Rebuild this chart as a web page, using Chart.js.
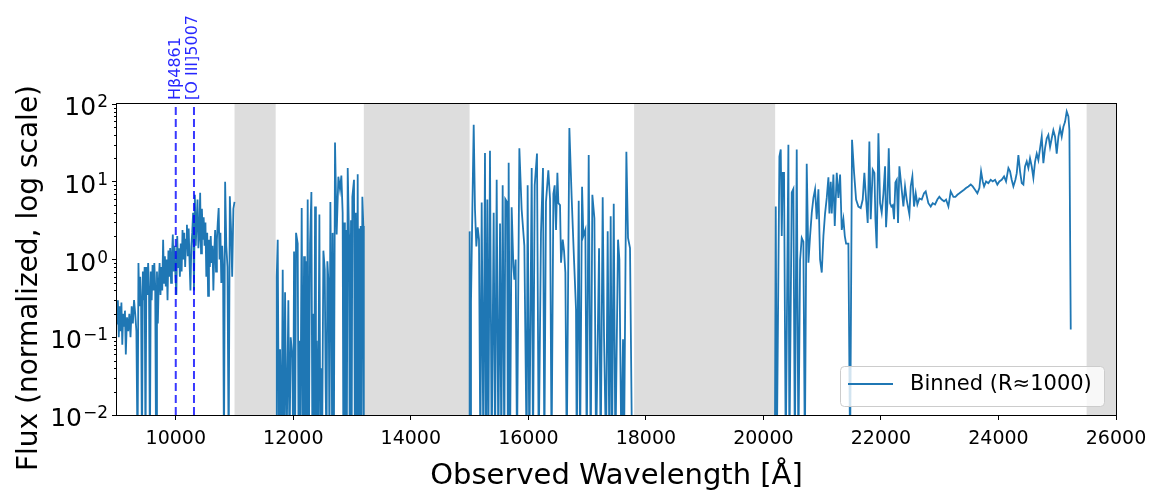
<!DOCTYPE html>
<html>
<head>
<meta charset="utf-8">
<script src="https://cdn.jsdelivr.net/npm/chart.js@4.4.1/dist/chart.umd.min.js"></script>
<style>
  html, body { margin: 0; padding: 0; background: #fff; }
  #wrap { width: 1162px; height: 494px; }
</style>
</head>
<body>
<div id="wrap"><canvas id="myChart" width="1162" height="494"></canvas></div>
<script>
const grafico = document.querySelector("#myChart")
const fonte = "'DejaVu Sans', sans-serif"

// eixos
const xTickValues = [10000, 12000, 14000, 16000, 18000, 20000, 22000, 24000, 26000]
const yTickValues = [0.01, 0.1, 1, 10, 100]
const yTickExponents = ["−2", "−1", "0", "1", "2"]

// faixas sem dados (telluricas)
const bandStarts = [11000, 13200, 17800, 25500]
const bandEnds = [11700, 15000, 20200, 26000]

// linhas marcadas
const markerWaves = [10000, 10310]
const markerLabels = ["Hβ4861", "[O III]5007"]

// espectro binado: [comprimento de onda, fluxo]; valores < 0.01 caem abaixo do eixo
const segA = [
  [9000, 0.15], [9015, 0.3], [9030, 0.1], [9045, 0.25], [9060, 0.12], [9075, 0.28], [9090, 0.08], [9105, 0.2],
  [9120, 0.14], [9135, 0.22], [9150, 0.06], [9170, 0.18], [9190, 0.12], [9210, 0.2], [9230, 0.1], [9250, 0.25],
  [9270, 0.15], [9290, 0.3], [9310, 0.2], [9330, 0.12], [9350, 0.003], [9365, 0.9], [9380, 0.25], [9395, 0.6],
  [9410, 0.3], [9425, 0.003], [9440, 0.7], [9455, 0.3], [9470, 0.8], [9485, 0.003], [9500, 0.8], [9515, 0.35],
  [9530, 0.9], [9545, 0.4], [9560, 0.003], [9575, 0.7], [9590, 0.3], [9605, 0.85], [9620, 0.4], [9635, 0.9],
  [9650, 0.45], [9665, 0.003], [9680, 0.7], [9695, 0.15], [9710, 0.5], [9725, 0.9], [9740, 0.35], [9755, 0.8],
  [9770, 0.4], [9785, 1.8], [9800, 0.5], [9815, 1.1], [9830, 0.45], [9845, 1.0], [9860, 0.3], [9875, 1.3],
  [9890, 0.6], [9905, 1.4], [9920, 0.5], [9935, 1.1], [9950, 2.1], [9965, 0.7], [9980, 1.5], [9995, 0.6],
  [10010, 0.35], [10025, 2.0], [10040, 0.8], [10055, 1.4], [10070, 0.6], [10085, 1.6], [10100, 0.7], [10115, 2.4],
  [10130, 1.0], [10145, 2.2], [10160, 0.8], [10175, 1.8], [10190, 2.8], [10205, 1.1], [10220, 2.5], [10235, 0.9],
  [10250, 0.4], [10265, 1.5], [10280, 2.2], [10295, 4.0], [10310, 0.4], [10325, 6.8], [10340, 1.5], [10355, 3.0],
  [10370, 5.9], [10385, 1.4], [10400, 2.0], [10415, 7.2], [10430, 1.2], [10445, 4.5], [10460, 1.8], [10475, 3.5],
  [10490, 1.5], [10505, 3.0], [10520, 0.6], [10535, 2.2], [10550, 0.34], [10565, 1.8], [10580, 0.8], [10595, 2.0],
  [10610, 0.9], [10625, 1.5], [10640, 0.4], [10655, 1.2], [10670, 2.4], [10685, 0.7], [10700, 1.8], [10715, 3.0],
  [10730, 4.6], [10745, 1.0], [10760, 2.2], [10775, 0.5], [10790, 1.5], [10805, 0.8], [10820, 0.003], [10840, 10],
  [10860, 1.5], [10880, 0.8], [10900, 0.003], [10920, 6.5], [10940, 2.5], [10960, 0.6], [10980, 4.5], [11000, 5.5]
]

const segB = [
  [11710, 0.003], [11718, 0.6], [11735, 1.8], [11755, 0.003], [11775, 0.07], [11800, 0.003], [11820, 0.74], [11840, 0.003],
  [11860, 0.38], [11885, 0.003], [11916, 0.3], [11935, 0.003], [11956, 0.1], [11984, 0.055], [11998, 0.003], [12013, 1.27],
  [12030, 0.003], [12047, 2.2], [12075, 1.6], [12090, 0.003], [12104, 0.09], [12120, 0.003], [12143, 4.6], [12163, 0.003],
  [12183, 1.1], [12198, 0.003], [12211, 0.95], [12228, 0.003], [12245, 5.9], [12265, 0.003], [12285, 1.6], [12308, 7.4],
  [12325, 0.003], [12342, 0.2], [12355, 0.003], [12370, 4.8], [12385, 0.003], [12398, 0.09], [12420, 0.003], [12444, 3.8],
  [12460, 0.003], [12472, 0.04], [12490, 0.003], [12512, 1.3], [12535, 0.75], [12551, 0.023], [12565, 0.003], [12580, 0.95],
  [12602, 0.46], [12615, 0.003], [12631, 5.5], [12653, 0.09], [12662, 0.003], [12670, 2.2], [12690, 0.003], [12710, 32],
  [12738, 2.1], [12767, 11.6], [12795, 8], [12818, 12], [12840, 4], [12852, 0.003], [12863, 3], [12878, 0.003],
  [12892, 2.4], [12910, 0.003], [12926, 15], [12948, 2.1], [12960, 0.003], [12982, 3.2], [12993, 0.003], [13005, 6.4],
  [13033, 10.6], [13048, 0.003], [13062, 4], [13080, 0.003], [13096, 12.5], [13110, 0.003], [13124, 2.5], [13135, 0.003],
  [13147, 2.7], [13160, 0.003], [13175, 6.4], [13192, 2.7], [13200, 0.003]
]

const segC = [
  [14995, 0.003], [15001, 2.3], [15012, 0.003], [15024, 0.28], [15047, 4.4], [15070, 54], [15092, 4.4], [15115, 1.47],
  [15138, 2.6], [15160, 1.8], [15183, 0.003], [15206, 5.4], [15234, 0.003], [15262, 23.5], [15279, 0.003], [15302, 5.9],
  [15319, 0.003], [15347, 25], [15376, 0.003], [15410, 4], [15433, 0.003], [15461, 10.6], [15489, 0.003], [15518, 2.9],
  [15540, 0.003], [15563, 9], [15591, 0.003], [15608, 6], [15637, 5.5], [15652, 0.003], [15665, 17.5], [15688, 0.003],
  [15716, 4.7], [15745, 0.8], [15762, 0.55], [15784, 1], [15807, 0.003], [15847, 27], [15886, 4.4], [15932, 1.5],
  [15971, 0.003], [15988, 9], [16017, 0.003], [16057, 15], [16079, 0.003], [16108, 9], [16147, 23], [16176, 0.003],
  [16215, 2.2], [16249, 15], [16272, 0.003], [16300, 5.5], [16340, 14], [16369, 6], [16395, 0.003], [16426, 7],
  [16448, 9], [16471, 2.4], [16494, 13], [16511, 5.3], [16539, 5], [16556, 0.91], [16585, 1.8], [16607, 1.3],
  [16630, 0.68], [16653, 0.003], [16698, 49], [16738, 6], [16777, 1], [16811, 0.23], [16823, 0.003], [16857, 5.7],
  [16880, 0.003], [16914, 8.6], [16936, 2], [16970, 2.4], [16993, 0.003], [17027, 22], [17061, 0.003], [17089, 6.8],
  [17124, 3.4], [17152, 0.003], [17203, 1.4], [17231, 0.003], [17265, 6.3], [17288, 0.1], [17322, 0.003], [17350, 2.3],
  [17379, 0.003], [17401, 3.6], [17424, 0.003], [17453, 5.2], [17481, 0.003], [17526, 1.8], [17549, 1], [17583, 0.003],
  [17611, 0.094], [17628, 0.003], [17668, 24.3], [17696, 1.9], [17730, 1.4], [17765, 0.003]
]

const segD = [
  [20195, 0.003], [20210, 4.8], [20228, 0.003], [20272, 21], [20295, 26], [20312, 2], [20329, 13], [20351, 13],
  [20380, 0.003], [20425, 30], [20442, 0.003], [20482, 7.3], [20510, 8.1], [20535, 0.003], [20567, 26], [20595, 0.003],
  [20624, 0.98], [20652, 1.9], [20680, 1.7], [20705, 0.003], [20737, 17], [20766, 0.91], [20794, 2], [20823, 4],
  [20851, 6.2], [20879, 8], [20907, 3.3], [20936, 8], [20964, 1], [20993, 0.68], [21021, 2], [21049, 3.9],
  [21078, 6.2], [21106, 11.4], [21123, 3.9], [21146, 10], [21163, 3.9], [21191, 12.4], [21214, 2.7], [21248, 13],
  [21276, 6.2], [21305, 12.4], [21333, 2.4], [21361, 3.3], [21385, 2], [21407, 1.6], [21446, 1.6], [21475, 0.003],
  [21508, 34.6], [21543, 13], [21577, 5.9], [21616, 4.8], [21656, 4.6], [21690, 5.9], [21718, 13], [21747, 5.9],
  [21775, 2.95], [21803, 33], [21826, 3.3], [21860, 14.3], [21889, 13], [21906, 3.3], [21928, 1.4], [21957, 42],
  [21985, 5.3], [22013, 4], [22042, 7], [22070, 15.8], [22087, 2.6], [22110, 5.3], [22133, 27], [22155, 5.3],
  [22178, 4.8], [22201, 5], [22223, 3.3], [22246, 9.8], [22269, 10.6], [22291, 2.95], [22314, 15.8], [22382, 4.8],
  [22410, 8.7], [22438, 5.9], [22484, 3.8], [22507, 8.7], [22535, 11.7], [22563, 4.8], [22592, 7.1], [22620, 5.1],
  [22654, 6.1], [22694, 5.9], [22733, 7.1], [22762, 7.5], [22807, 5.3], [22847, 4.8], [22881, 5.3], [22921, 5.1],
  [22960, 5.9], [22994, 6.4], [23034, 5.9], [23074, 5.6], [23108, 5.9], [23148, 4.8], [23187, 7.5], [23233, 6.4],
  [23267, 6.4], [23301, 6.8], [23335, 7.1], [23374, 7.5], [23414, 7.9], [23448, 8.3], [23488, 8.7], [23528, 9.2],
  [23562, 8.7], [23601, 7.9], [23641, 7.1], [23675, 8.3], [23704, 13.6], [23732, 10.1], [23755, 8.7], [23789, 10.1],
  [23828, 9.6], [23868, 10.6], [23902, 10.1], [23942, 10.6], [23981, 9.2], [24015, 10.1], [24055, 10.6], [24095, 11.7],
  [24129, 10.1], [24169, 15], [24197, 13.6], [24225, 10.6], [24254, 8.7], [24288, 10.6], [24311, 12.9], [24339, 22],
  [24367, 13.6], [24396, 9.6], [24424, 9.2], [24452, 15.7], [24481, 18.2], [24509, 15], [24537, 20], [24566, 15.7],
  [24594, 11.2], [24623, 18.2], [24651, 23], [24679, 19], [24708, 27], [24736, 38], [24764, 17.3], [24793, 27],
  [24821, 36], [24849, 40], [24878, 28], [24906, 36], [24934, 46], [24963, 38], [24991, 23], [25020, 38],
  [25048, 49], [25076, 38], [25105, 51], [25133, 59], [25161, 80], [25190, 69], [25207, 46], [25230, 0.126]
]

// juntar segmentos com quebras (null) entre eles
const toPoints = seg => seg.map(p => ({ x: p[0], y: p[1] }))
const spectrum = [].concat(
  toPoints(segA), [{ x: 11350, y: null }],
  toPoints(segB), [{ x: 14100, y: null }],
  toPoints(segC), [{ x: 19000, y: null }],
  toPoints(segD)
)

const isPow10 = v => Math.abs(Math.log10(v) - Math.round(Math.log10(v))) < 1e-9

// faixas cinzentas
const bandsPlugin = {
  id: 'bands',
  beforeDatasetsDraw(chart) {
    const { ctx, chartArea, scales } = chart
    ctx.save()
    ctx.beginPath()
    ctx.rect(chartArea.left, chartArea.top, chartArea.right - chartArea.left, chartArea.bottom - chartArea.top)
    ctx.clip()
    ctx.fillStyle = '#dddddd'
    bandStarts.forEach((a, i) => {
      const x1 = scales.x.getPixelForValue(a)
      const x2 = scales.x.getPixelForValue(bandEnds[i])
      ctx.fillRect(x1, chartArea.top, x2 - x1, chartArea.bottom - chartArea.top)
    })
    ctx.restore()
  }
}

// moldura, ticks menores, rotulos do eixo y, rotulos das linhas e legenda
const extrasPlugin = {
  id: 'extras',
  afterDraw(chart) {
    const { ctx, chartArea, scales } = chart
    ctx.save()
    ctx.strokeStyle = '#000'
    ctx.lineWidth = 1
    ctx.strokeRect(chartArea.left - 0.5, chartArea.top - 0.5, chartArea.right - chartArea.left + 1, chartArea.bottom - chartArea.top + 1)

    ctx.beginPath()
    scales.y.ticks.forEach(t => {
      if (isPow10(t.value)) return
      const y = Math.round(scales.y.getPixelForValue(t.value)) + 0.5
      ctx.moveTo(chartArea.left - 3, y)
      ctx.lineTo(chartArea.left, y)
    })
    ctx.stroke()

    // 10^n com expoente
    ctx.fillStyle = '#000'
    ctx.textAlign = 'right'
    ctx.textBaseline = 'alphabetic'
    yTickValues.forEach((v, i) => {
      const y = scales.y.getPixelForValue(v)
      const right = chartArea.left - 9
      ctx.font = '17px ' + fonte
      const ew = ctx.measureText(yTickExponents[i]).width
      ctx.fillText(yTickExponents[i], right, y + 3)
      ctx.font = '25px ' + fonte
      ctx.fillText('10', right - ew - 1, y + 11)
    })

    // titulo do eixo y
    ctx.save()
    ctx.font = '28px ' + fonte
    ctx.textAlign = 'center'
    ctx.textBaseline = 'middle'
    ctx.translate(30, 278)
    ctx.rotate(-Math.PI / 2)
    ctx.fillText('Flux (normalized, log scale)', 0, 0)
    ctx.restore()

    ctx.fillStyle = 'rgba(0,0,255,0.85)'
    ctx.font = '16px ' + fonte
    ctx.textAlign = 'left'
    ctx.textBaseline = 'middle'
    markerWaves.forEach((w, i) => {
      const x = scales.x.getPixelForValue(w) - (i === 1 ? 1.5 : 0)
      ctx.save()
      ctx.translate(x, chartArea.top - 4)
      ctx.rotate(-Math.PI / 2)
      ctx.fillText(markerLabels[i], 0, 0)
      ctx.restore()
    })

    // legenda
    const bx = 840, by = 366, bw = 264, bh = 40
    ctx.beginPath()
    ctx.roundRect(bx + 0.5, by + 0.5, bw, bh, 4)
    ctx.fillStyle = 'rgba(255,255,255,0.8)'
    ctx.fill()
    ctx.strokeStyle = '#cccccc'
    ctx.stroke()
    ctx.beginPath()
    ctx.strokeStyle = '#1f77b4'
    ctx.lineWidth = 1.8
    ctx.moveTo(848, 384)
    ctx.lineTo(893, 384)
    ctx.stroke()
    ctx.fillStyle = '#000'
    ctx.font = '21px ' + fonte
    ctx.textAlign = 'left'
    ctx.textBaseline = 'middle'
    ctx.fillText('Binned (R≈1000)', 910, 385)
    ctx.restore()
  }
}

const markerDatasets = markerWaves.map(w => ({
  data: [{ x: w, y: 0.01 }, { x: w, y: 100 }],
  borderColor: 'rgba(0,0,255,0.78)',
  borderWidth: 2,
  borderDash: [8, 4],
  pointRadius: 0,
  clip: 0
}))

new Chart(grafico, {
  type: 'line',
  data: {
    datasets: [...markerDatasets, {
      label: 'Binned (R≈1000)',
      data: spectrum,
      borderColor: '#1f77b4',
      borderWidth: 1.8,
      pointRadius: 0,
      tension: 0,
      spanGaps: false,
      clip: 0
    }]
  },
  options: {
    responsive: false,
    animation: false,
    devicePixelRatio: 1,
    layout: { padding: { top: 104, right: 46, left: 0, bottom: 0 } },
    plugins: { legend: { display: false }, tooltip: { enabled: false } },
    scales: {
      x: {
        type: 'linear',
        min: 9000,
        max: 26000,
        afterBuildTicks: s => { s.ticks = xTickValues.map(v => ({ value: v })) },
        afterFit: s => { s.height = 79 },
        border: { display: false },
        grid: { drawOnChartArea: false, tickLength: 5, tickColor: '#000', tickWidth: 1 },
        ticks: { color: '#000', font: { family: fonte, size: 19 }, padding: 8, maxRotation: 0, autoSkip: false, callback: v => String(v) },
        title: { display: true, text: 'Observed Wavelength [Å]', color: '#000', font: { family: fonte, size: 29 }, padding: { top: 0, bottom: 0 } }
      },
      y: {
        type: 'logarithmic',
        min: 0.01,
        max: 100,
        afterBuildTicks: s => {
          const t = []
          yTickValues.forEach((d, i) => {
            t.push({ value: d })
            if (i < yTickValues.length - 1) for (let k = 2; k <= 9; k++) t.push({ value: d * k })
          })
          s.ticks = t
        },
        afterFit: s => { s.width = 117 },
        border: { display: false },
        grid: {
          drawOnChartArea: false, tickLength: 5, tickWidth: 1,
          tickColor: c => (c.tick && isPow10(c.tick.value)) ? '#000' : 'rgba(0,0,0,0)'
        },
        ticks: { display: true, autoSkip: false, callback: () => '' },
        title: { display: false }
      }
    }
  },
  plugins: [bandsPlugin, extrasPlugin]
})
</script>
</body>
</html>
